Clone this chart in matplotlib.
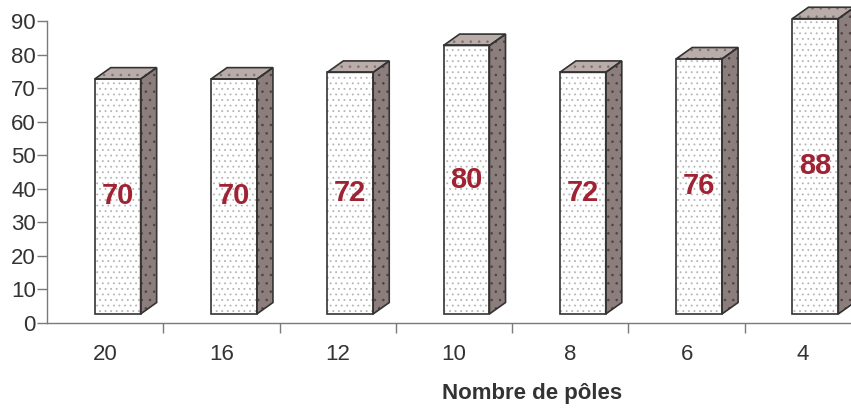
import matplotlib
matplotlib.use("Agg")
import matplotlib.pyplot as plt
from matplotlib.patches import Polygon

plt.rcParams['font.family'] = ['Liberation Sans', 'DejaVu Sans']
plt.rcParams['hatch.linewidth'] = 0.6

categories = ["20", "16", "12", "10", "8", "6", "4"]
values = [70, 70, 72, 80, 72, 76, 88]
x_label = "Nombre de pôles"

W, H, DPI = 851, 408, 100
fig = plt.figure(figsize=(W / DPI, H / DPI), dpi=DPI)
ax = fig.add_axes([47 / W, 85 / H, 814 / W, 302 / H])

ax.set_xlim(-0.5, len(categories) - 0.5)
ax.set_ylim(0, 90)

# pseudo-3D bar geometry (data units)
x_off = -0.09     # front face left edge relative to category centre
bar_w = 0.395     # front face width
lift = 2.7        # front face is raised above the floor
dx, dy = 0.138, 3.4  # depth of the box

edge = "#333333"
front_col, front_dots = "#ffffff", "#b5b5b5"
side_col, side_dots = "#8c7e7c", "#4e4442"
top_col, top_dots = "#b9aca9", "#7e726f"


def face(pts, fc, dc, hatch):
    ax.add_patch(Polygon(pts, closed=True, facecolor=fc, edgecolor="none",
                         clip_on=False, zorder=2))
    ax.add_patch(Polygon(pts, closed=True, facecolor="none", edgecolor=dc,
                         hatch=hatch, linewidth=0, clip_on=False, zorder=3))
    ax.add_patch(Polygon(pts, closed=True, facecolor="none", edgecolor=edge,
                         linewidth=1.2, joinstyle="miter", clip_on=False, zorder=4))


for i, v in enumerate(values):
    x0 = i + x_off
    x1 = x0 + bar_w
    y0 = lift
    y1 = v + lift
    face([(x1, y0), (x1 + dx, y0 + dy), (x1 + dx, y1 + dy), (x1, y1)], side_col, side_dots, "..")
    face([(x0, y1), (x0 + dx, y1 + dy), (x1 + dx, y1 + dy), (x1, y1)], top_col, top_dots, "..")
    face([(x0, y0), (x1, y0), (x1, y1), (x0, y1)], front_col, front_dots, "...")
    ax.text((x0 + x1) / 2, (y0 + y1) / 2, str(v), ha="center", va="center",
            fontsize=21, fontweight="bold", color="#a02333", zorder=5)

for s in ("top", "right"):
    ax.spines[s].set_visible(False)
for s in ("left", "bottom"):
    ax.spines[s].set_color("#7a7a7a")
    ax.spines[s].set_linewidth(1.0)

ax.set_yticks(range(0, 91, 10))
ax.tick_params(axis="y", length=7, width=1.0, color="#7a7a7a", labelsize=16,
               labelcolor="#333333", pad=1)

ax.set_xticks([i + 0.5 for i in range(len(categories))])
ax.set_xticklabels([])
ax.tick_params(axis="x", which="major", length=7, width=1.0, color="#7a7a7a")
ax.set_xticks(range(len(categories)), minor=True)
ax.set_xticklabels(categories, minor=True)
ax.tick_params(axis="x", which="minor", length=0, labelsize=16,
               labelcolor="#333333", pad=15)

fig.text(532 / W, 1 - 394 / H, x_label, ha="center", va="center",
         fontsize=16, fontweight="bold", color="#333333")

fig.savefig("out.png", dpi=DPI)
